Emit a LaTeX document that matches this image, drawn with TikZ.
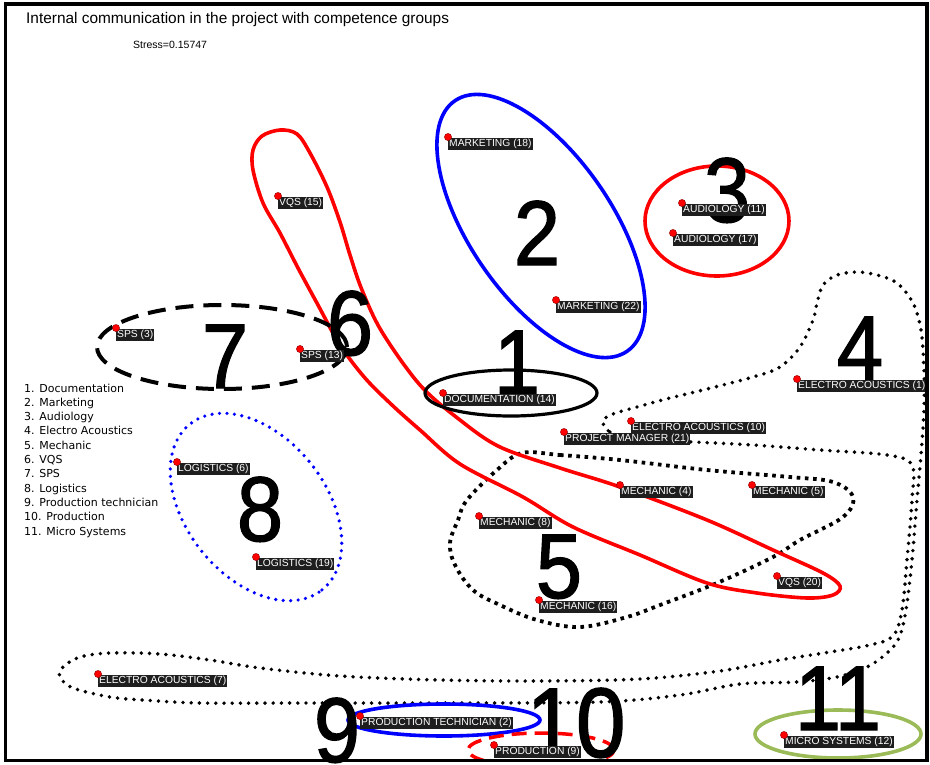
\documentclass[tikz,border=0pt]{standalone}
\usepackage{fontspec}
\setmainfont{Liberation Sans}
\newfontfamily\legfont{DejaVu Sans}
\newfontfamily\bigfont[FakeBold=1.4, FakeStretch=0.9]{Liberation Sans}
\definecolor{egreen}{RGB}{155,187,89}
\definecolor{labbg}{RGB}{30,30,30}
\newcommand\dpt[4]{%
  \node[lab] (#1) at (#2,#3+1) {#4};
  \fill[red, draw=red!55!black, line width=0.4pt] (#2,#3) circle (3.6pt);}
\begin{document}
\begin{tikzpicture}[x=1pt,y=-1pt,
  lab/.style={fill=labbg, text=white, font=\fontsize{10.3}{11}\selectfont,
    inner xsep=1pt, inner ysep=1pt, text height=7.6pt, text depth=2pt, anchor=north west},
  big/.style={font=\bigfont\fontsize{92}{92}\selectfont, inner sep=0pt, anchor=base},
  leg/.style={font=\legfont\fontsize{11}{13}\selectfont, anchor=base west, inner sep=0pt},
  blkdots/.style={draw=black, dash pattern=on 0pt off 8.2pt, line cap=round, line width=3.9pt},
  sqdots/.style={draw=black, dash pattern=on 3.6pt off 4.6pt, line width=3.8pt},
  bludots/.style={draw=blue, dash pattern=on 0pt off 7.5pt, line cap=round, line width=3.6pt},
  solidloop/.style={line width=3.6pt},
]
\useasboundingbox (0,0) rectangle (930,764);
\fill[white] (0,0) rectangle (930,764);

\node[anchor=base west, inner sep=0pt, font=\fontsize{15.4}{17}\selectfont] (title) at (26,23.5)
  {Internal communication in the project with competence groups};
\node[anchor=base west, inner sep=0pt, font=\fontsize{10.5}{12}\selectfont] (stress) at (133,48)
  {Stress=0.15747};

\foreach \t [count=\i] in {1. Documentation,2. Marketing,3. Audiology,4. Electro Acoustics,
  5. Mechanic,6. VQS,7. SPS,8. Logistics,9. Production technician,10. Production,11. Micro Systems}
  \node[leg] (leg\i) at (24,{392+14.3*(\i-1)}) {\t};

\begin{scope}
\clip (7,5) rectangle (926,759);

% 4 electro acoustics (dotted)
\draw[blkdots] plot[smooth cycle, tension=0.55] coordinates {
 (603,421) (610,432) (640,440) (693,442) (753,445) (820,450) (887,455) (912,465)
 (912,500) (907,560) (902,610) (893,636) (870,645) (830,652) (780,660) (720,671)
 (640,679) (540,681) (440,680) (340,676) (260,668) (210,660) (160,654) (110,653)
 (80,657) (63,667) (60,677) (73,688) (110,697) (143,700) (200,703) (300,703)
 (450,703) (600,702) (680,695) (740,684) (797,682) (837,677) (867,667) (887,653)
 (899,638) (906,610) (912,560) (917,500) (921,455) (924,410) (924,370) (921,330)
 (913,303) (897,283) (877,275) (857,272) (837,275) (823,285) (817,303) (813,320)
 (800,347) (780,367) (753,377) (703,390) (670,398) (637,407) (613,414)};

% 5 mechanic (dotted)
\draw[sqdots] plot[smooth cycle, tension=0.6] coordinates {
 (522,453) (560,455) (620,460) (707,470) (790,477) (833,482) (853,497) (843,517)
 (800,540) (773,557) (717,583) (660,605) (627,617) (580,627) (537,620) (500,605)
 (473,590) (455,565) (450,543) (458,520) (467,500) (497,470)};

% 6 VQS (red loop)
\draw[red, solidloop] plot[smooth cycle, tension=0.55] coordinates {
 (280,130) (297,134) (310,153) (327,187) (340,222) (350,255) (362,290) (382,332)
 (420,385) (460,420) (500,447) (560,468) (620,487) (707,520) (773,550) (823,573)
 (840,586) (833,595) (807,598) (757,593) (707,583) (640,555) (573,527) (523,497)
 (460,464) (420,430) (392,405) (365,378) (340,345) (318,305) (298,268) (280,233)
 (263,203) (253,170) (253,150) (262,136)};

% 1 documentation
\draw[black, line width=3.2pt] (511,393) ellipse [x radius=86pt, y radius=23pt];
% 2 marketing
\draw[blue, solidloop, rotate around={-55.5:(541,226)}] (541,226) ellipse [x radius=152pt, y radius=71pt];
% 3 audiology
\draw[red, solidloop] (717,221) ellipse [x radius=72pt, y radius=55pt];
% 7 SPS
\draw[black, line width=4pt, dash pattern=on 18pt off 10pt] (222,347) ellipse [x radius=125pt, y radius=42pt];
% 8 logistics
\draw[bludots, rotate around={-51.5:(256,507)}] (256,507) ellipse [x radius=106pt, y radius=70pt];
% 9 production technician
\draw[blue, solidloop] (444,720) ellipse [x radius=96pt, y radius=16pt];
% 10 production
\draw[red, line width=3.5pt, dash pattern=on 15pt off 8pt] (541,750) ellipse [x radius=73pt, y radius=17pt];
% 11 micro systems
\draw[egreen, solidloop] (838,734) ellipse [x radius=83pt, y radius=24pt];
\end{scope}

% group numbers
\node[big] (n1) at (517,394) {1};
\node[big] (n2) at (537,265) {2};
\node[big] (n3) at (727,222) {3};
\node[big] (n4) at (860,380) {4};
\node[big] (n5) at (559,598) {5};
\node[big] (n6) at (350,355) {6};
\node[big] (n7) at (225,388) {7};
\node[big] (n8) at (260,541) {8};
\node[big] (n9) at (337,762) {9};
\node[big, font=\bigfont\fontsize{99}{99}\selectfont] (n10) at (576,757) {10};
\node[big] (n11) at (838,730) {11};

\begin{scope}
\clip (7,5) rectangle (926,759);
% data points
\dpt{p18}{448}{137}{MARKETING (18)}
\dpt{p15}{278}{196}{VQS (15)}
\dpt{p11}{682}{203}{AUDIOLOGY (11)}
\dpt{p17}{673}{233}{AUDIOLOGY (17)}
\dpt{p22}{556}{300}{MARKETING (22)}
\dpt{p3}{116}{328}{SPS (3)}
\dpt{p13}{300}{349}{SPS (13)}
\dpt{p1}{797}{379}{ELECTRO ACOUSTICS (1)}
\dpt{p14}{443}{393}{DOCUMENTATION (14)}
\dpt{p10}{631}{421}{ELECTRO ACOUSTICS (10)}
\dpt{p21}{564}{432}{PROJECT MANAGER (21)}
\dpt{p6}{177}{462}{LOGISTICS (6)}
\dpt{p4}{620}{485}{MECHANIC (4)}
\dpt{p5}{752}{485}{MECHANIC (5)}
\dpt{p8}{479}{516}{MECHANIC (8)}
\dpt{p19}{256}{557}{LOGISTICS (19)}
\dpt{p20}{777}{576}{VQS (20)}
\dpt{p16}{539}{600}{MECHANIC (16)}
\dpt{p7}{98}{674}{ELECTRO ACOUSTICS (7)}
\dpt{p2}{360}{716}{PRODUCTION TECHNICIAN (2)}
\dpt{p9}{494}{745}{PRODUCTION (9)}
\dpt{p12}{784}{735}{MICRO SYSTEMS (12)}
\end{scope}

% frame
\draw[line width=3.6pt] (5.5,4) rectangle (927,760.5);
\end{tikzpicture}
\end{document}
